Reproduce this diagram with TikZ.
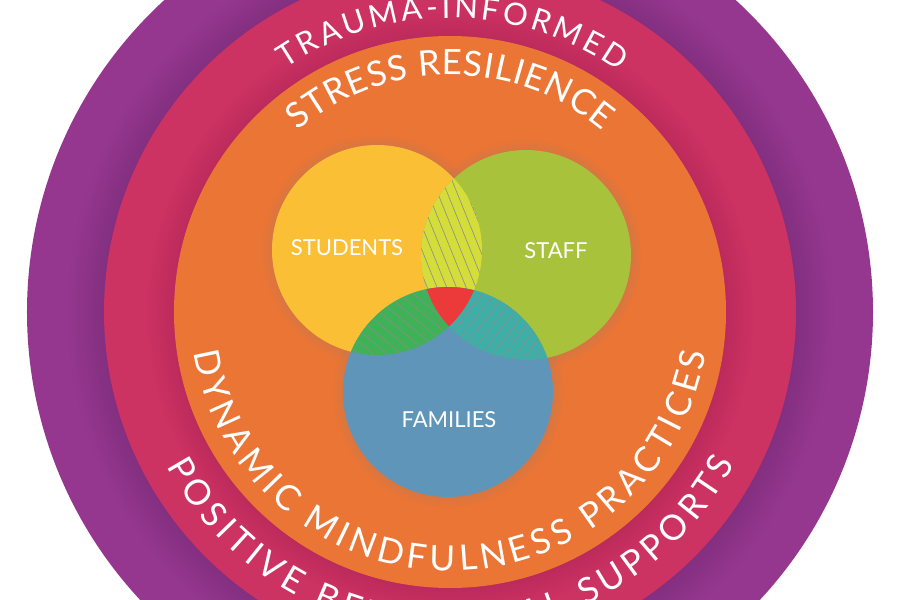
\documentclass[tikz,border=0pt]{standalone}
\usepackage{fontspec}
\setmainfont{Lato}
\newfontfamily\ringfont{Lato}
\usepackage{tikz}
\usetikzlibrary{
  decorations.text,shadows,fadings
}
\definecolor{ringpurple}{HTML}{96378F}
\definecolor{ringpurpledk}{HTML}{832F80}
\definecolor{ringmagenta}{HTML}{CC3262}
\definecolor{ringmagentadk}{HTML}{BC2A5C}
\definecolor{ringorange}{HTML}{EA7535}
\definecolor{venyellow}{HTML}{FBBF35}
\definecolor{vengreen}{HTML}{A8C23C}
\definecolor{venblue}{HTML}{5F95B8}
\definecolor{lenslime}{HTML}{D4DD3A}
\definecolor{lensgreen}{HTML}{3FB157}
\definecolor{lensteal}{HTML}{3EAEA6}
\definecolor{lensred}{HTML}{EC3A3B}
\pgfdeclareradialshading{purplering}{\pgfpoint{0bp}{0bp}}{%
  color(0bp)=(ringpurpledk); color(20.45bp)=(ringpurpledk);
  color(22.8bp)=(ringpurple); color(50bp)=(ringpurple)}
\pgfdeclareradialshading{magentaring}{\pgfpoint{0bp}{0bp}}{%
  color(0bp)=(ringmagentadk); color(19.94bp)=(ringmagentadk);
  color(22bp)=(ringmagenta); color(50bp)=(ringmagenta)}
\tikzset{
  venn/.style={circle,minimum size=210pt,inner sep=0pt,fill=#1},
  vennlabel/.style={text=white,inner sep=0pt,font=\fontsize{22}{22}\selectfont},
  vennshadow/.style={circular drop shadow={shadow xshift=0pt,shadow yshift=0pt,
    shadow scale=1.1,opacity=0.28}},
  hatch/.style={draw=#1,line width=0.6pt},
  hatch/.default={black!45},
  ringtext/.style 2 args={decorate,decoration={text along path,text align={fit to path},
    text color=white,text={|\ringfont\fontsize{#1}{#1}\selectfont|#2}}},
}

\begin{document}
\begin{tikzpicture}[x=1pt,y=1pt]
  \fill[white] (-450,-288) rectangle (450,312);
  \useasboundingbox (-450,-288) rectangle (450,312);
  \clip (-450,-288) rectangle (450,312);
  \shade[shading=purplering] (0,0) circle (423);
  \shade[shading=magentaring] (0,0) circle (346);
  \fill[ringorange] (0,0) circle (276);

  \path[ringtext={31}{TRAUMA-INFORMED}] (124:294) arc[start angle=124,end angle=55,radius=294];
  \path[ringtext={35}{STRESS RESILIENCE}] (130:237) arc[start angle=130,end angle=50,radius=237];
  \path[ringtext={35}{DYNAMIC MINDFULNESS PRACTICES}] (189:259) arc[start angle=189,end angle=351,radius=259];
  \path[ringtext={35}{POSITIVE BEHAVIORAL SUPPORTS}] (208.5:323) arc[start angle=208.5,end angle=332,radius=323];

  \coordinate (cstu) at (-73,62);
  \coordinate (csta) at (76,57);
  \coordinate (cfam) at (-2,-80);
  \foreach \c in {cstu,csta,cfam}
    \path[vennshadow] (\c) circle (105);
  \node[venn=venyellow] (students) at (cstu) {};
  \node[venn=vengreen] (staff) at (csta) {};
  \node[venn=venblue] (families) at (cfam) {};
  \node[vennlabel] (studentslbl) at ([xshift=-30pt,yshift=2pt]students.center) {STUDENTS};
  \node[vennlabel] (stafflbl) at ([xshift=30pt,yshift=4pt]staff.center) {STAFF};
  \node[vennlabel] (familieslbl) at ([xshift=1pt,yshift=-28pt]families.center) {FAMILIES};

  \begin{scope}
    \clip (cstu) circle (105);
    \clip (csta) circle (105);
    \fill[lenslime] (-450,-288) rectangle (450,312);
    \begin{scope}[shift={(1,62)},rotate=-68]
      \foreach \k in {-14,...,14} \draw[hatch] (-150,\k*9) -- (150,\k*9);
    \end{scope}
  \end{scope}
  \begin{scope}
    \clip (cstu) circle (105);
    \clip (cfam) circle (105);
    \fill[lensgreen] (-450,-288) rectangle (450,312);
    \begin{scope}[shift={(-45,-10)},rotate=-40]
      \foreach \k in {-14,...,14} \draw[hatch] (-150,\k*9) -- (150,\k*9);
    \end{scope}
  \end{scope}
  \begin{scope}
    \clip (csta) circle (105);
    \clip (cfam) circle (105);
    \fill[lensteal] (-450,-288) rectangle (450,312);
    \begin{scope}[shift={(45,-10)},rotate=52]
      \foreach \k in {-14,...,14} \draw[hatch] (-150,\k*9) -- (150,\k*9);
    \end{scope}
  \end{scope}
  \begin{scope}
    \clip (cstu) circle (105);
    \clip (csta) circle (105);
    \clip (cfam) circle (105);
    \fill[lensred] (-450,-288) rectangle (450,312);
  \end{scope}
\end{tikzpicture}
\end{document}
